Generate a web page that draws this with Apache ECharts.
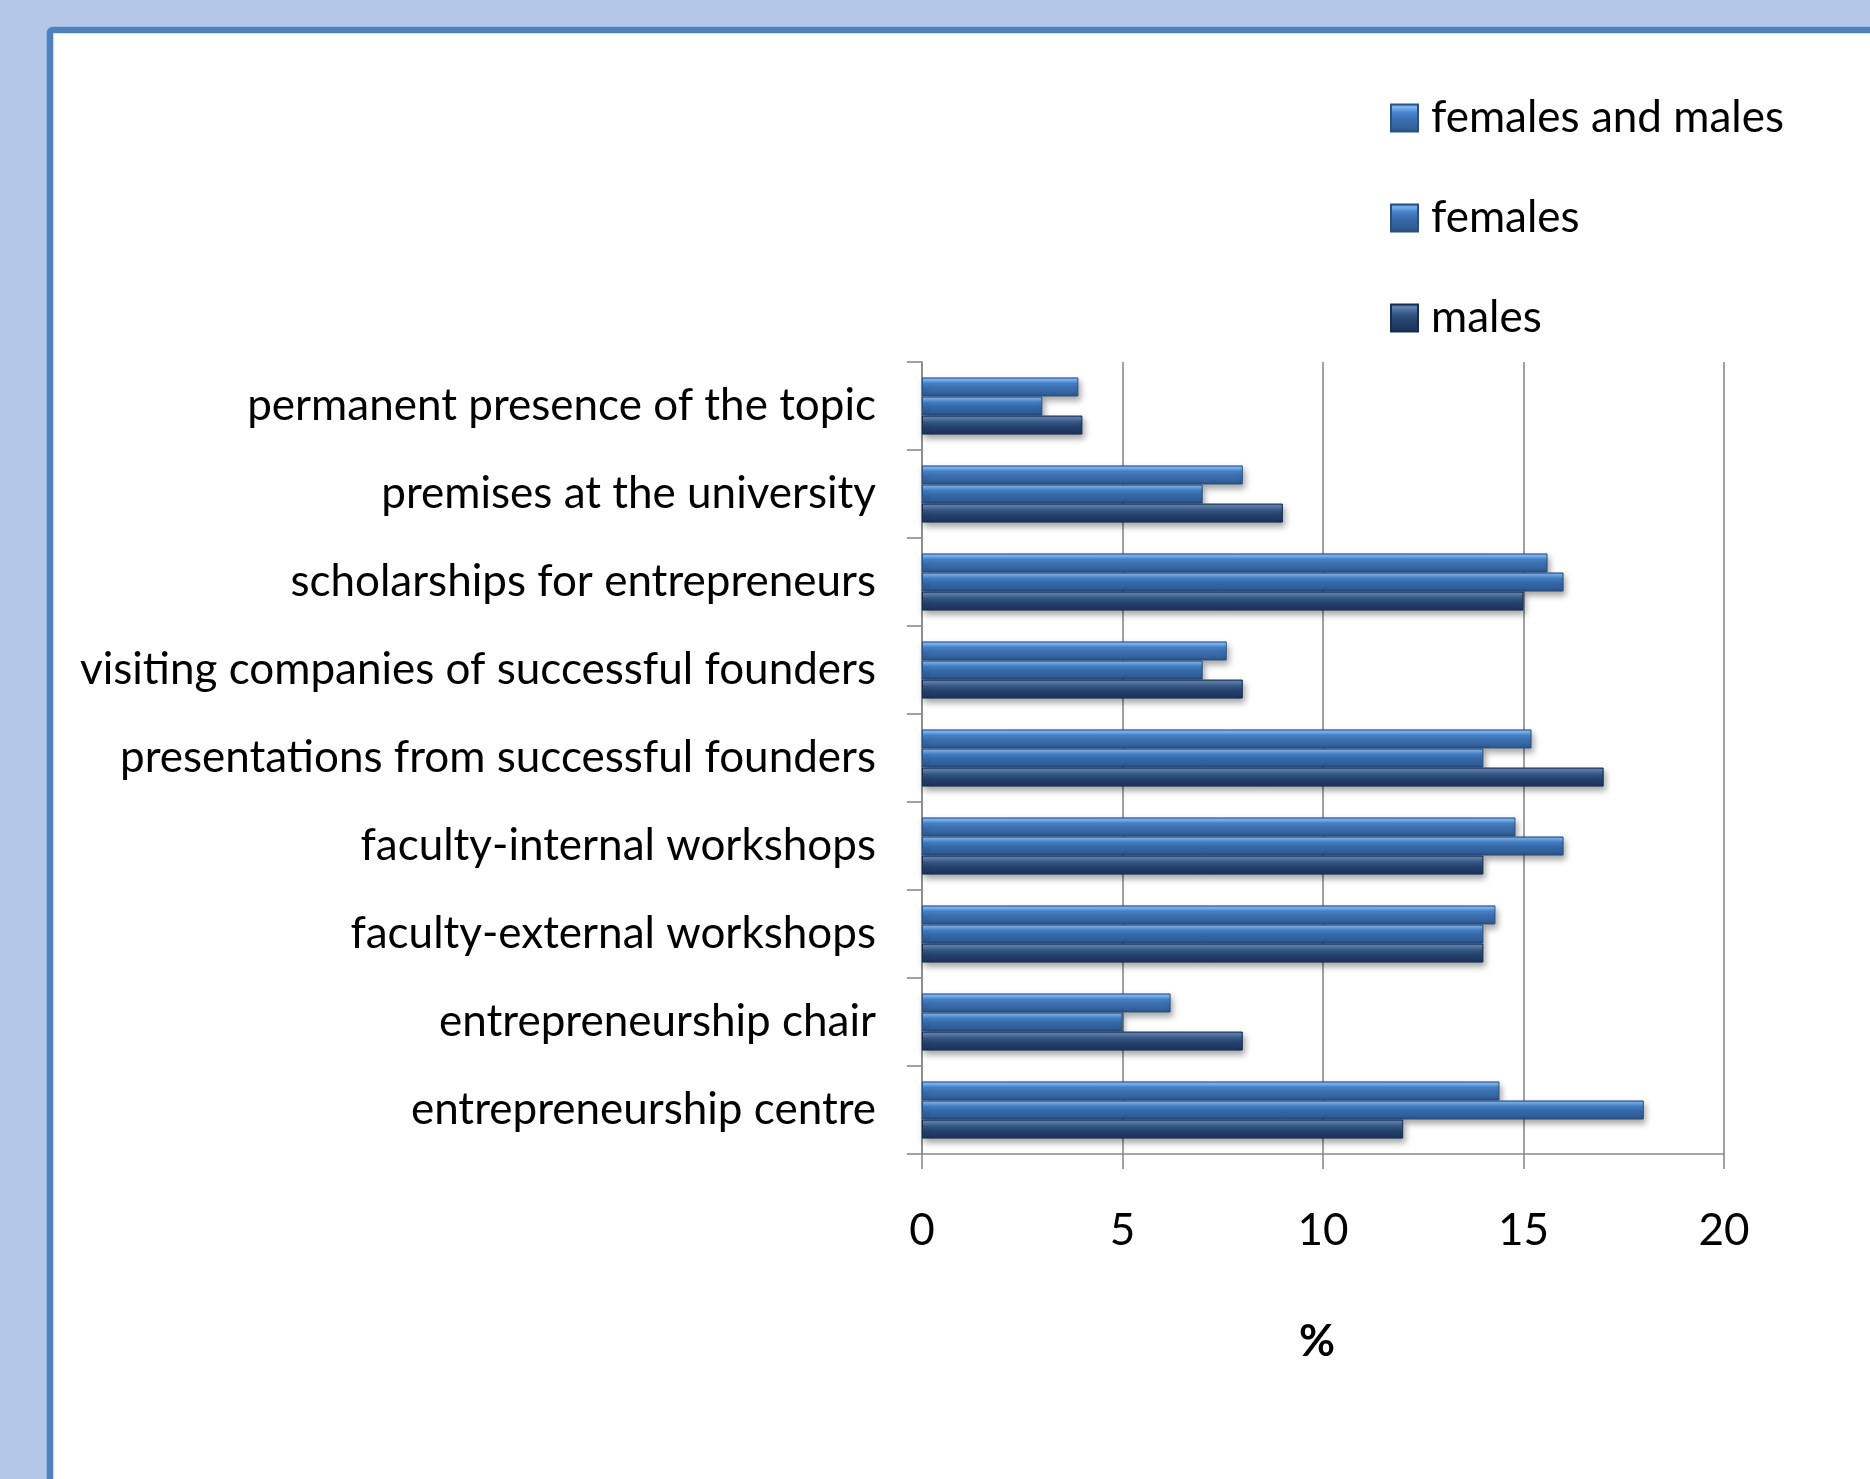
<!DOCTYPE html>
<html>
<head>
<meta charset="utf-8">
<script src="https://cdn.jsdelivr.net/npm/echarts@6/dist/echarts.min.js"></script>
<style>
  html,body{margin:0;padding:0;background:#b4c7e8}
  #chart{width:1870px;height:1479px}
</style>
</head>
<body>
<div id="chart"></div>
<script>
// categories, top to bottom
var categories = [
  'permanent presence of the topic',
  'premises at the university',
  'scholarships for entrepreneurs',
  'visiting companies of successful founders',
  'presentations from successful founders',
  'faculty-internal workshops',
  'faculty-external workshops',
  'entrepreneurship chair',
  'entrepreneurship centre'
]
// % values per group
var bothValues    = [3.9, 8, 15.6, 7.6, 15.2, 14.8, 14.3, 6.2, 14.4]
var femaleValues  = [3, 7, 16, 7, 14, 16, 14, 5, 18]
var maleValues    = [4, 9, 15, 8, 17, 14, 14, 8, 12]
var xTicks = [0, 5, 10, 15, 20]

var font = 'Lato, "Noto Sans", sans-serif'

// bevel-like vertical gradient for bars
function bevel(stops){
  return {
    type: 'linear', x: 0, y: 0, x2: 0, y2: 1,
    colorStops: stops.map(function(s){ return {offset: s[0], color: s[1]} })
  }
}
var bothColor = bevel([[0,'#4d89d3'],[0.12,'#80baf3'],[0.3,'#4a86cf'],[0.55,'#3b70b0'],[0.85,'#33629c'],[1,'#274c7e']])
var femaleColor = bevel([[0,'#4884cb'],[0.12,'#76b0ee'],[0.3,'#4580c8'],[0.55,'#3669a8'],[0.85,'#2f5c96'],[1,'#254879']])
var maleColor = bevel([[0,'#3b5d8b'],[0.12,'#6283b0'],[0.35,'#36598a'],[0.6,'#25436c'],[1,'#19325a']])

function barStyle(color, border){
  return {
    color: color,
    borderColor: border,
    borderWidth: 1,
    shadowColor: 'rgba(0,0,0,0.35)',
    shadowBlur: 6,
    shadowOffsetX: 2,
    shadowOffsetY: 4
  }
}

var chartObj = echarts.init(document.getElementById('chart'))
var option = {
  backgroundColor: '#b4c7e8',
  animation: false,
  textStyle: {fontFamily: font},
  graphic: [{
    type: 'rect',
    z: -10,
    shape: {x: 50, y: 30, width: 1900, height: 1500, r: 3},
    style: {fill: '#ffffff', stroke: '#4f81bd', lineWidth: 6.6}
  }],
  legend: {
    orient: 'vertical',
    left: 1385,
    top: 91,
    itemWidth: 27,
    itemHeight: 27,
    itemGap: 56,
    icon: 'rect',
    data: ['females and males', 'females', 'males'],
    textStyle: {fontFamily: font, fontSize: 44, color: '#000', lineHeight: 44, padding: [0, 0, 0, 8]}
  },
  grid: {
    left: 922,
    right: 146,
    top: 362,
    bottom: 325,
    containLabel: false
  },
  xAxis: {
    type: 'value',
    min: 0,
    max: 20,
    interval: 5,
    name: '%',
    nameLocation: 'middle',
    nameGap: 166,
    nameTextStyle: {fontFamily: font, fontSize: 44, fontWeight: 'bold', color: '#000', padding: [0, 12, 0, 0]},
    axisLine: {show: true, lineStyle: {color: '#8a8a8a', width: 1.6}},
    axisTick: {show: true, length: 15, lineStyle: {color: '#8a8a8a', width: 1.6}},
    axisLabel: {
      fontFamily: font, fontSize: 44, color: '#000', margin: 55,
      formatter: function(v){ return xTicks.indexOf(v) > -1 ? String(v) : '' }
    },
    splitLine: {show: true, lineStyle: {color: '#8a8a8a', width: 1.6}}
  },
  yAxis: {
    type: 'category',
    inverse: true,
    data: categories,
    axisLine: {show: true, lineStyle: {color: '#8a8a8a', width: 1.6}},
    axisTick: {show: true, length: 15, lineStyle: {color: '#8a8a8a', width: 1.6}},
    axisLabel: {fontFamily: font, fontSize: 44, color: '#000', margin: 46},
    splitLine: {show: false}
  },
  series: [
    {
      name: 'females and males',
      type: 'bar',
      data: bothValues,
      barGap: '0%',
      barCategoryGap: '35%',
      itemStyle: barStyle(bothColor, '#2c5285')
    },
    {
      name: 'females',
      type: 'bar',
      data: femaleValues,
      barGap: '0%',
      barCategoryGap: '35%',
      itemStyle: barStyle(femaleColor, '#2a4f80')
    },
    {
      name: 'males',
      type: 'bar',
      data: maleValues,
      barGap: '0%',
      barCategoryGap: '35%',
      itemStyle: barStyle(maleColor, '#172d50')
    }
  ]
}
chartObj.setOption(option)
</script>
</body>
</html>
